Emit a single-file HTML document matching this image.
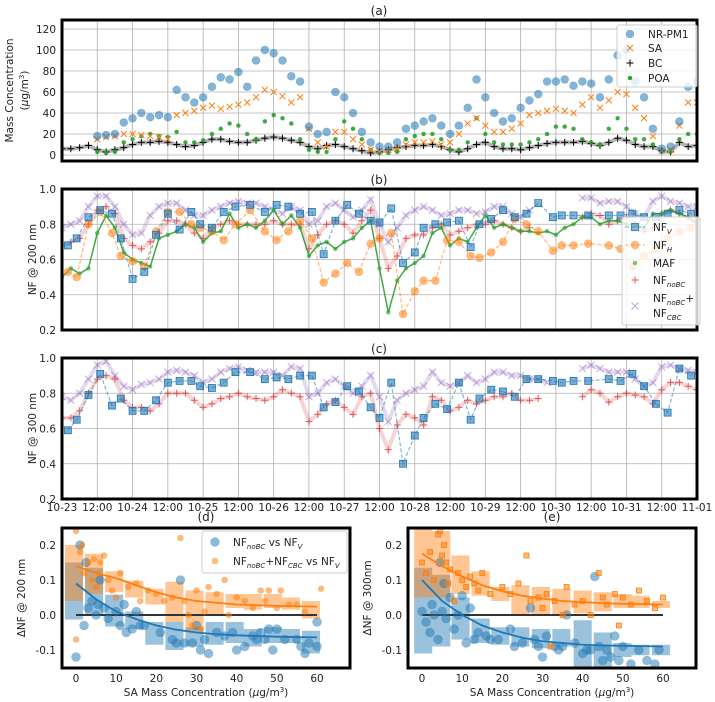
<!DOCTYPE html>
<html><head><meta charset="utf-8"><style>
body{margin:0;background:#fff}
svg{display:block;font-family:"DejaVu Sans","Liberation Sans",sans-serif}
</style></head><body>
<svg id="fig" xmlns="http://www.w3.org/2000/svg" width="715" height="702" viewBox="0 0 715 702"></svg>
<script>
// ---------- DATA ----------
const timeTickLabels=["10-23","12:00","10-24","12:00","10-25","12:00","10-26","12:00","10-27","12:00","10-28","12:00","10-29","12:00","10-30","12:00","10-31","12:00","11-01"];
const stepHours=3; // dense series are sampled every 3 h starting at 10-23 00:00
const pm1=[null,null,null,null,18,19,20,31,35,40,36,38,36,62,55,50,55,65,74,72,79,65,90,100,97,90,75,70,27,20,22,60,55,40,22,12,8,8,12,25,28,32,35,28,20,28,45,72,55,40,32,35,45,52,58,70,70,72,66,70,68,55,72,95,100,70,55,25,6,8,32,65,70];
const sa=[null,null,null,null,15,17,18,20,20,19,18,17,15,38,40,42,45,47,44,46,48,50,55,62,60,56,50,55,25,12,8,22,22,15,10,5,4,5,6,10,12,12,13,10,12,20,30,35,28,22,22,25,30,38,40,42,44,42,40,48,55,45,52,60,58,45,35,18,4,5,28,50,50];
const bc=[6,6,7,9,5,3,5,7,10,12,12,13,12,10,8,9,12,15,15,13,12,12,14,16,17,16,14,12,8,6,9,10,8,6,4,2,3,5,7,8,9,9,10,8,5,3,6,10,12,8,6,6,5,7,9,11,12,12,12,13,11,9,12,16,14,10,8,8,4,3,12,8,9];
const poa=[null,null,null,null,3,2,3,12,15,18,20,18,17,22,12,12,14,20,25,30,28,20,15,32,38,35,30,15,5,3,3,15,32,25,15,5,2,2,3,15,18,20,20,15,5,5,12,35,20,12,10,10,10,12,15,20,27,27,25,15,12,10,25,35,25,15,15,10,3,3,15,20,20];

const nfCbc200=[0.78,0.80,0.82,0.90,0.96,0.96,0.90,0.80,0.74,0.75,0.85,0.90,0.92,0.92,0.88,0.85,0.85,0.88,0.90,0.92,0.93,0.92,0.92,0.90,0.88,0.86,0.90,0.88,0.80,0.82,0.90,0.92,0.88,0.84,0.88,0.94,0.80,0.70,0.78,0.85,0.88,0.90,0.88,0.85,0.86,0.88,0.88,0.86,0.87,0.90,0.90,0.86,0.84,0.88,null,null,null,null,null,0.95,0.95,0.92,0.93,0.93,0.90,0.86,0.84,0.93,0.96,0.93,0.92,0.90,0.90];
const nfNoBc200=[0.68,0.70,0.72,0.80,0.88,0.90,0.86,0.72,0.68,0.66,0.70,0.75,0.82,0.82,0.80,0.75,0.72,0.78,0.80,0.82,0.80,0.80,0.80,0.80,0.82,0.80,0.80,0.80,0.66,0.74,0.80,0.82,0.80,0.75,0.82,0.88,0.72,0.55,0.62,0.72,0.74,0.74,0.78,0.80,0.74,0.76,0.78,0.80,0.80,0.82,0.80,0.78,0.76,0.78,null,null,null,null,null,0.84,0.86,0.85,0.80,0.82,0.84,0.80,0.76,0.78,0.86,0.88,0.86,0.84,0.82];
const maf200=[0.50,0.55,0.52,0.55,0.75,0.85,0.78,0.64,0.60,0.58,0.56,0.72,0.74,0.76,0.80,0.78,0.70,0.75,0.76,0.86,0.78,0.80,0.78,0.82,0.88,0.80,0.85,0.78,0.62,0.68,0.70,0.66,0.70,0.72,0.78,0.82,0.55,0.30,0.48,0.55,0.58,0.62,0.75,0.78,0.68,0.72,0.70,0.78,0.85,0.78,0.80,0.78,0.76,0.76,0.75,0.76,0.74,0.78,0.80,0.84,0.84,0.80,0.82,0.82,0.80,0.80,0.78,0.86,0.86,0.88,0.86,0.84,0.80];
const nfvHours=[2,5,9,13,17,20,24,28,32,36,40,44,47,51,55,59,64,69,73,77,81,85,89,93,97,101,105,108,112,116,120,123,127,131,135,139,142,146,150,154,158,162,167,170,174,179,186,190,194,198,202,206,210,214];
const nfv200=[0.68,0.72,0.84,0.88,0.86,0.72,0.49,0.53,0.74,0.86,0.77,0.87,0.80,0.78,0.87,0.90,0.91,0.87,0.91,0.90,0.86,0.87,0.63,0.82,0.91,0.86,0.82,0.81,0.89,0.58,0.64,0.78,0.80,0.81,0.82,0.67,0.80,0.83,0.88,0.84,0.86,0.92,0.84,0.85,0.85,0.85,0.85,0.85,0.86,0.84,0.84,0.86,0.88,0.86];
const nfh200=[0.53,0.50,0.80,0.87,0.75,0.62,0.59,0.56,0.76,0.87,0.87,0.80,0.78,0.76,0.71,0.80,0.88,0.76,0.71,0.76,0.82,0.72,0.47,0.52,0.58,0.53,0.69,0.72,0.75,0.29,0.42,0.48,0.48,0.71,0.70,0.62,0.61,0.64,0.70,0.83,0.80,0.76,0.65,0.68,0.68,0.69,0.68,0.66,0.56,0.62,0.66,0.72,0.76,0.78];

const nfCbc300=[0.78,0.76,0.80,0.88,0.96,0.98,0.90,0.84,0.82,0.85,0.86,0.88,0.92,0.93,0.92,0.90,0.86,0.88,0.92,0.94,0.95,0.93,0.92,0.92,0.92,0.90,0.95,0.94,0.78,0.80,0.86,0.88,0.84,0.80,0.84,0.90,0.78,0.64,0.76,0.80,0.82,0.84,0.92,0.86,0.84,0.86,0.90,0.86,0.88,0.92,0.92,0.90,0.90,0.88,0.88,0.86,null,null,null,0.94,0.96,0.94,0.92,0.92,0.92,0.88,0.84,0.86,0.95,0.96,0.94,0.93,0.92];
const nfNoBc300=[0.66,0.66,0.70,0.80,0.88,0.90,0.88,0.76,0.72,0.72,0.70,0.74,0.80,0.80,0.80,0.76,0.72,0.74,0.77,0.78,0.80,0.78,0.77,0.76,0.78,0.82,0.80,0.78,0.64,0.68,0.74,0.76,0.72,0.68,0.78,0.80,0.60,0.48,0.62,0.68,0.66,0.62,0.78,0.76,0.70,0.72,0.76,0.74,0.76,0.78,0.78,0.80,0.76,0.76,0.77,null,null,null,null,0.78,0.82,0.80,0.75,0.78,0.80,0.79,0.78,0.74,0.82,0.86,0.86,0.84,0.82];
const nfv300=[0.59,0.65,0.79,0.91,0.73,0.77,0.70,0.70,0.76,0.86,0.87,0.87,0.84,0.83,0.86,0.92,0.92,0.88,0.89,0.88,0.90,0.90,0.72,0.75,0.84,0.81,0.72,0.66,0.86,0.40,0.56,0.66,0.74,0.71,0.86,0.65,0.77,0.82,0.81,0.78,0.88,0.88,0.87,0.86,0.87,0.87,0.88,0.87,0.91,0.84,0.74,0.69,0.94,0.90];

const fitX=[0,5,10,15,20,25,30,35,40,45,50,55,60];
const binCentersD=[-0.5,4.5,9.5,14.5,19.5,24.5,29.5,34.5,39.5,44,49,53.5,58.5];
const blueLowD=[-0.013,0.0,-0.033,-0.04,-0.085,-0.1,-0.09,-0.085,-0.08,-0.09,-0.08,-0.08,-0.11];
const blueHighD=[0.15,0.135,0.058,0.01,-0.02,-0.02,-0.035,-0.02,-0.02,-0.04,-0.035,-0.04,-0.045];
const orangeLowD=[0.04,0.06,0.065,0.05,0.03,-0.02,-0.045,0.0,0.02,0.015,0.02,0.015,-0.01];
const orangeHighD=[0.2,0.175,0.125,0.098,0.075,0.095,0.07,0.065,0.06,0.06,0.06,0.05,0.04];
const blueFitD=[0.09,0.045,0.01,-0.012,-0.03,-0.042,-0.05,-0.055,-0.058,-0.06,-0.062,-0.063,-0.064];
const orangeFitD=[0.14,0.12,0.105,0.085,0.065,0.05,0.04,0.035,0.03,0.028,0.026,0.025,0.024];
const blueXD=[0,1,2,2.5,3,4,5,5.5,6,7,8,10,11,12,12.5,14,15,16,17,21,24,25,26,27,29,30,31,32,33,35,37,39,40,42,44,45,46,47,48,49,50,52,55,56,57,58,60,60];
const blueYD=[-0.12,0.2,-0.03,0.15,0.02,0.04,0.0,0.03,0.1,0.02,-0.01,0.01,-0.03,0.03,-0.05,-0.04,0.01,-0.03,-0.03,-0.05,-0.07,-0.08,0.1,-0.08,-0.08,-0.03,-0.1,-0.07,-0.11,-0.05,-0.06,-0.05,-0.1,-0.09,-0.06,-0.07,-0.05,-0.07,-0.04,-0.1,-0.04,-0.07,-0.07,-0.09,-0.11,-0.08,-0.02,-0.09];
const orangeXD=[0,0,1,1.5,2,3,4,4.5,5,5.5,6,7,8,9,10,11,13,15,16,18,20,22,24,26,27,28,29,30,31,32,33,35,37,38,40,42,44,46,47,48,50,51,53,55,57,61];
const orangeYD=[0.24,-0.07,0.18,0.2,0.12,0.15,0.1,0.16,0.08,0.12,0.15,0.17,0.1,0.07,0.05,0.12,0.08,0.09,0.04,0.07,0.06,0.04,0.05,0.22,0.04,0.0,-0.03,0.07,-0.04,0.01,0.08,0.06,0.1,0.0,0.05,0.04,0.02,0.07,0.04,0.07,0.02,0.07,0.03,0.03,0.01,0.075];

const binCentersE=[0.3,4.8,9.6,14.6,19.5,24.5,29.6,34.7,40,45,49.9,54.4,59.5];
const blueLowE=[-0.11,-0.09,-0.07,-0.08,-0.085,-0.09,-0.095,-0.09,-0.15,-0.15,-0.12,-0.115,-0.115];
const blueHighE=[0.135,0.115,0.05,-0.01,-0.035,-0.035,-0.04,-0.04,-0.015,-0.05,-0.08,-0.085,-0.085];
const orangeLowE=[0.05,0.05,0.06,0.055,0.04,0.0,0.0,0.0,0.005,0.01,0.02,0.02,0.02];
const orangeHighE=[0.26,0.24,0.17,0.125,0.08,0.085,0.08,0.075,0.07,0.065,0.06,0.055,0.04];
const blueFitE=[0.10,0.04,0.0,-0.03,-0.05,-0.065,-0.075,-0.08,-0.085,-0.087,-0.088,-0.089,-0.09];
const orangeFitE=[0.175,0.14,0.11,0.085,0.068,0.055,0.047,0.04,0.037,0.034,0.032,0.031,0.03];
const blueXE=[0,1,2,2.5,3,4,4.5,5,5.5,6,7,8,9,10,11,12,13,14,16,17,19,22,23,25,27,28,29,30,31,33,34,35,36,38,40,41,42,43,44,45,46,47,48,49,50,52,54,56,58,59];
const blueYE=[0.01,-0.02,-0.05,0.03,0.0,-0.07,0.15,0.01,0.09,-0.01,0.05,-0.04,0.0,0.055,-0.08,0.02,-0.07,-0.05,-0.06,-0.07,-0.07,-0.04,-0.09,-0.08,0.02,-0.07,-0.09,-0.12,-0.06,-0.09,-0.1,-0.09,0.0,-0.08,-0.11,-0.1,-0.1,0.11,-0.09,-0.13,-0.1,-0.12,-0.06,-0.13,-0.09,-0.14,-0.1,-0.13,-0.14,-0.1];
const orangeXE=[0,1,2,3,4,4.5,5,5.5,6,6.5,7,8,9,10,11,12,13,14,15,17,20,22,24,26,27,29,30,31,32,33,35,36,38,40,42,44,45,46,48,49,50,52,54,56,58,60];
const orangeYE=[0.15,0.12,0.18,0.1,0.23,0.24,0.17,0.2,0.15,0.09,0.13,0.04,0.12,0.1,0.08,0.11,0.09,0.07,0.12,0.06,0.08,0.06,0.09,0.17,0.04,0.05,0.02,0.06,-0.09,0.04,0.0,0.08,0.03,0.04,0.0,0.12,0.05,0.03,0.06,-0.03,0.05,0.03,0.07,0.04,0.02,0.05];

// ---------- DRAWING ----------
const NS="http://www.w3.org/2000/svg";
const svg=document.getElementById('fig');
function mk(tag,attrs,parent,text){const e=document.createElementNS(NS,tag);for(const k in attrs)e.setAttribute(k,attrs[k]);if(text!==undefined)e.textContent=text;(parent||svg).appendChild(e);return e;}
function grp(name,parent){const g=mk('g',{},parent);return g;}

const C={blue:'#1f77b4',orange:'#ff7f0e',green:'#2ca02c',red:'#d62728',purple:'#9467bd'};
const xT=h=>62+h*635/216;

function clipFor(id,x0,y0,x1,y1){const defs=mk('defs',{});const cp=mk('clipPath',{id:id},defs);mk('rect',{x:x0,y:y0,width:x1-x0,height:y1-y0},cp);}

function marker(g,type,x,y,s,color,op){
  let e;
  if(type==='circle'){e=mk('circle',{cx:x,cy:y,r:s,fill:color,'fill-opacity':op,stroke:color,'stroke-opacity':op*0.6,'stroke-width':0.6},g);}
  else if(type==='square'){e=mk('rect',{x:x-s,y:y-s,width:2*s,height:2*s,fill:color,'fill-opacity':op,stroke:color,'stroke-width':0.8},g);}
  else if(type==='x'){e=mk('path',{d:`M${x-s},${y-s}L${x+s},${y+s}M${x-s},${y+s}L${x+s},${y-s}`,stroke:color,'stroke-opacity':op,'stroke-width':1,fill:'none'},g);}
  else {e=mk('path',{d:`M${x-s},${y}L${x+s},${y}M${x},${y-s}L${x},${y+s}`,stroke:color,'stroke-opacity':op,'stroke-width':1,fill:'none'},g);}
  
  
}

function timePanel(name,y0,y1,yv,yticks,ytickLabels,title,ylabelLines,showX){
  const g=grp(name+'-panel');
  clipFor(name+'-clip',62,y0,697,y1);
  const grid=grp(name+'-grid',g);
  for(let i=0;i<timeTickLabels.length;i++){const x=xT(i*12);mk('line',{x1:x,y1:y0,x2:x,y2:y1,stroke:'#b0b0b0','stroke-width':0.8},grid);}
  yticks.forEach(v=>{const y=yv(v);mk('line',{x1:62,y1:y,x2:697,y2:y,stroke:'#b0b0b0','stroke-width':0.8},grid);});
  const yt=grp(name+'-y-ticks',g);
  yticks.forEach((v,i)=>{const y=yv(v);const t=mk('text',{x:56,y:y+4,'text-anchor':'end','font-size':10.5,fill:'#222'},yt,ytickLabels[i]);});
  if(showX){const xt=grp(name+'-x-ticks',g);timeTickLabels.forEach((l,i)=>{const t=mk('text',{x:xT(i*12),y:y1+12,'text-anchor':'middle','font-size':10.5,fill:'#222'},xt,l);});}
  const tt=mk('text',{x:379,y:y0-5,'text-anchor':'middle','font-size':12,fill:'#222'},g,title);
  
  const cy=(y0+y1)/2;
  ylabelLines.forEach((l,i)=>{const lx=ylabelLines.length>1?(13+i*15):36;const t=mk('text',{x:lx,y:cy,'text-anchor':'middle','font-size':10.5,fill:'#222',transform:`rotate(-90 ${lx} ${cy})`},g);t.innerHTML=l;});
  const plot=mk('g',{'clip-path':`url(#${name}-clip)`},g);
  
  const frame=mk('rect',{x:62,y:y0,width:635,height:y1-y0,fill:'none',stroke:'#000','stroke-width':3},g);
  
  return plot;
}

function denseSeries(plot,name,vals,yv,type,s,color,op,lineOp){
  const g=grp(name,plot);
  if(lineOp){let d='',pen=false;vals.forEach((v,i)=>{if(v===null){pen=false;return;}d+=(pen?'L':'M')+xT(i*stepHours)+','+yv(v);pen=true;});mk('path',{d:d,fill:'none',stroke:color,'stroke-opacity':lineOp,'stroke-width':lineOp>0.5?1.5:4},g);}
  vals.forEach((v,i)=>{if(v===null)return;marker(g,type,xT(i*stepHours),yv(v),s,color,op);});
}
function sparseSeries(plot,name,hours,vals,yv,type,s,color,op){
  const g=grp(name,plot);
  mk('path',{d:vals.map((v,i)=>(i?'L':'M')+xT(hours[i])+','+yv(v)).join(''),fill:'none',stroke:color,'stroke-opacity':0.55,'stroke-width':1.2,'stroke-dasharray':'4,2'},g);
  vals.forEach((v,i)=>marker(g,type,xT(hours[i]),yv(v),s,color,op));
}
function legend(name,x,y,w,h,items){
  const g=grp(name);
  mk('rect',{x:x,y:y,width:w,height:h,fill:'#fff','fill-opacity':0.8,stroke:'#ccc','stroke-width':1,rx:2},g);
  items.forEach(it=>{const e=grp('legend-entry',g);marker(e,it.type,x+13,it.y,it.s,it.color,it.op);if(it.line)mk('line',{x1:x+3,y1:it.y,x2:x+23,y2:it.y,stroke:it.color,'stroke-dasharray':'4,2','stroke-opacity':0.6},e);const t=mk('text',{x:x+31,y:it.y+4,'font-size':10.5,fill:'#222'},e);t.innerHTML=it.label;});
}

// Panel (a)
const yA=v=>155-v*1.05;
const pa=timePanel('panel-a',20,161,yA,[0,20,40,60,80,100,120],['0','20','40','60','80','100','120'],'(a)',['Mass Concentration','(<tspan font-style="italic">µ</tspan>g/m<tspan dy="-4" font-size="7">3</tspan><tspan dy="4">)</tspan>'],false);
denseSeries(pa,'bc-series',bc,yA,'plus',3.5,'#000',1,0.3);
denseSeries(pa,'poa-series',poa,yA,'circle',2,C.green,0.9,0);
denseSeries(pa,'sa-series',sa,yA,'x',3,C.orange,1,0);
denseSeries(pa,'nr-pm1-series',pm1,yA,'circle',4,C.blue,0.55,0);
legend('panel-a-legend',617,25,80,62,[
 {type:'circle',s:4,color:C.blue,op:0.55,y:34,label:'NR-PM1'},
 {type:'x',s:3,color:C.orange,op:1,y:48,label:'SA'},
 {type:'plus',s:3.5,color:'#000',op:1,y:63,label:'BC'},
 {type:'circle',s:2,color:C.green,op:1,y:78,label:'POA'}]);

// Panel (b)
const yB=v=>189+(1-v)/0.8*141;
const nfTicks=[0.2,0.4,0.6,0.8,1.0],nfLabels=['0.2','0.4','0.6','0.8','1.0'];
const pb=timePanel('panel-b',189,330,yB,nfTicks,nfLabels,'(b)',['NF @ 200 nm'],false);
denseSeries(pb,'nf-cbc-200-series',nfCbc200,yB,'x',3.5,C.purple,0.55,0.25);
denseSeries(pb,'nf-nobc-200-series',nfNoBc200,yB,'plus',3.5,C.red,0.7,0.2);
denseSeries(pb,'maf-200-series',maf200,yB,'circle',2,C.green,0.6,0.9);
sparseSeries(pb,'nf-h-200-series',nfvHours,nfh200,yB,'circle',4,C.orange,0.55);
sparseSeries(pb,'nf-v-200-series',nfvHours,nfv200,yB,'square',3.5,C.blue,0.55);
legend('panel-b-legend',622,217,78,108,[
 {type:'square',s:3.5,color:C.blue,op:0.55,y:227,line:1,label:'NF<tspan font-size="7" dy="3" font-style="italic">V</tspan>'},
 {type:'circle',s:4,color:C.orange,op:0.55,y:245,line:1,label:'NF<tspan font-size="7" dy="3" font-style="italic">H</tspan>'},
 {type:'circle',s:2,color:C.green,op:0.6,y:263,label:'MAF'},
 {type:'plus',s:3.5,color:C.red,op:0.8,y:280,label:'NF<tspan font-size="7" dy="3" font-style="italic">noBC</tspan>'},
 {type:'x',s:3.5,color:C.purple,op:0.6,y:306,label:''}]);
(function(){const t=mk('text',{x:653,y:302,'font-size':10.5,fill:'#222'});t.innerHTML='NF<tspan font-size="7" dy="3" font-style="italic">noBC</tspan><tspan dy="-3">+</tspan>';
const t2=mk('text',{x:653,y:317,'font-size':10.5,fill:'#222'});t2.innerHTML='NF<tspan font-size="7" dy="3" font-style="italic">CBC</tspan>';})();

// Panel (c)
const yC=v=>358+(1-v)/0.8*141;
const pc=timePanel('panel-c',358,499,yC,nfTicks,nfLabels,'(c)',['NF @ 300 nm'],true);
denseSeries(pc,'nf-cbc-300-series',nfCbc300,yC,'x',3.5,C.purple,0.55,0.25);
denseSeries(pc,'nf-nobc-300-series',nfNoBc300,yC,'plus',3.5,C.red,0.7,0.2);
sparseSeries(pc,'nf-v-300-series',nfvHours,nfv300,yC,'square',3.5,C.blue,0.6);

// Scatter panels
function scatterPanel(name,x0,title,ylabel,centers,bl,bh,ol,oh,bfit,ofit,bx,by,ox,oy,orangeType,ylx){
  const x1=x0+288,y0=528,y1=668;
  const xv=v=>x0+14+v*4.017,yv=v=>615-v*350;
  const g=grp(name+'-panel');
  clipFor(name+'-clip',x0,y0,x1,y1);
  const plot=mk('g',{'clip-path':`url(#${name}-clip)`},g);
  
  const boxes=grp(name+'-bins',plot);
  centers.forEach((c,i)=>{
    const r1=mk('rect',{x:xv(c-2.25),y:yv(bh[i]),width:4.5*4.017,height:yv(bl[i])-yv(bh[i]),fill:C.blue,'fill-opacity':0.45},boxes);
    
    const r2=mk('rect',{x:xv(c-2.25),y:yv(oh[i]),width:4.5*4.017,height:yv(ol[i])-yv(oh[i]),fill:C.orange,'fill-opacity':0.45},boxes);
    
  });
  const zl=mk('line',{x1:xv(0),y1:yv(0),x2:xv(60),y2:yv(0),stroke:'#333','stroke-width':2},plot);
  
  const bs=grp(name+'-blue-points',plot);bx.forEach((x,i)=>marker(bs,'circle',xv(x),yv(by[i]),4.5,C.blue,0.5));
  const os=grp(name+'-orange-points',plot);ox.forEach((x,i)=>marker(os,orangeType,xv(x),yv(oy[i]),orangeType==='square'?2.5:3,C.orange,0.55));
  const f1=mk('path',{d:fitX.map((x,i)=>(i?'L':'M')+xv(x)+','+yv(bfit[i])).join(''),fill:'none',stroke:C.blue,'stroke-width':1.8},plot);
  
  const f2=mk('path',{d:fitX.map((x,i)=>(i?'L':'M')+xv(x)+','+yv(ofit[i])).join(''),fill:'none',stroke:C.orange,'stroke-width':1.8},plot);
  
  const fr=mk('rect',{x:x0,y:y0,width:288,height:140,fill:'none',stroke:'#000','stroke-width':3},g);
  
  [-0.1,0,0.1,0.2].forEach(v=>{const t=mk('text',{x:x0-6,y:yv(v)+4,'text-anchor':'end','font-size':10.5,fill:'#222'},g,v.toFixed(1));});
  [0,10,20,30,40,50,60].forEach(v=>{const t=mk('text',{x:xv(v),y:682,'text-anchor':'middle','font-size':10.5,fill:'#222'},g,String(v));});
  const tt=mk('text',{x:x0+144,y:521,'text-anchor':'middle','font-size':12,fill:'#222'},g,title);
  const xl=mk('text',{x:x0+144,y:696,'text-anchor':'middle','font-size':10.5,fill:'#222'},g);xl.innerHTML='SA Mass Concentration (<tspan font-style="italic">µ</tspan>g/m<tspan dy="-4" font-size="7">3</tspan><tspan dy="4">)</tspan>';
  
  const yl=mk('text',{x:ylx,y:598,'text-anchor':'middle','font-size':10.5,fill:'#222',transform:`rotate(-90 ${ylx} 598)`},g,ylabel);
  
}
scatterPanel('panel-d',62,'(d)','ΔNF @ 200 nm',binCentersD,blueLowD,blueHighD,orangeLowD,orangeHighD,blueFitD,orangeFitD,blueXD,blueYD,orangeXD,orangeYD,'circle',25);
scatterPanel('panel-e',408,'(e)','ΔNF @ 300nm',binCentersE,blueLowE,blueHighE,orangeLowE,orangeHighE,blueFitE,orangeFitE,blueXE,blueYE,orangeXE,orangeYE,'square',371);
legend('panel-d-legend',202,531,145,42,[
 {type:'circle',s:4.5,color:C.blue,op:0.5,y:542,label:'NF<tspan font-size="7" dy="3" font-style="italic">noBC</tspan><tspan dy="-3"> vs NF</tspan><tspan font-size="7" dy="3" font-style="italic">V</tspan>'},
 {type:'circle',s:3,color:C.orange,op:0.55,y:561,label:'NF<tspan font-size="7" dy="3" font-style="italic">noBC</tspan><tspan dy="-3">+NF</tspan><tspan font-size="7" dy="3" font-style="italic">CBC</tspan><tspan dy="-3"> vs NF</tspan><tspan font-size="7" dy="3" font-style="italic">V</tspan>'}]);
</script>
</body></html>
